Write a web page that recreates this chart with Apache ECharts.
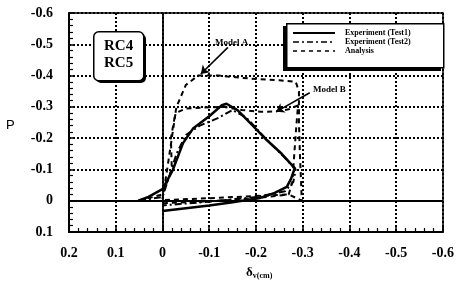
<!DOCTYPE html>
<html>
<head>
<meta charset="utf-8">
<script src="https://cdn.jsdelivr.net/npm/echarts@6/dist/echarts.min.js"></script>
<style>
  html, body { margin: 0; padding: 0; background: #fff; }
  #chart { width: 457px; height: 282px; }
</style>
</head>
<body>
<div id="chart"></div>
<script>
// displacement (cm), load P
var test1 = [
  [0.052, 0], [0.03, -0.012], [0, -0.037], [-0.022, -0.098], [-0.044, -0.184],
  [-0.066, -0.232], [-0.1, -0.27], [-0.127, -0.305], [-0.137, -0.31], [-0.16, -0.29],
  [-0.19, -0.245], [-0.223, -0.194], [-0.255, -0.15], [-0.283, -0.104], [-0.275, -0.07],
  [-0.266, -0.044], [-0.24, -0.025], [-0.209, -0.009], [-0.15, 0.005], [-0.1, 0.015],
  [0, 0.033]
];
var test2 = [
  [0.05, 0], [0, -0.012], [-0.015, -0.08], [-0.03, -0.15], [-0.05, -0.21],
  [-0.08, -0.24], [-0.12, -0.265], [-0.15, -0.29], [-0.18, -0.265], [-0.22, -0.2],
  [-0.26, -0.14], [-0.285, -0.1], [-0.28, -0.06], [-0.262, -0.03], [-0.2, -0.012],
  [-0.1, 0.003], [0, 0.015]
];
var modelA = [
  [0.05, 0], [0, -0.02], [-0.02, -0.1], [-0.018, -0.2], [-0.03, -0.3],
  [-0.05, -0.37], [-0.076, -0.4], [-0.12, -0.4], [-0.19, -0.39], [-0.25, -0.385],
  [-0.285, -0.38], [-0.292, -0.35], [-0.292, -0.25], [-0.294, -0.15], [-0.296, -0.08],
  [-0.298, 0], [-0.27, -0.02], [-0.2, -0.015], [-0.1, -0.008], [0, -0.002]
];
var modelB = [
  [0, -0.005], [-0.01, -0.1], [-0.02, -0.2], [-0.028, -0.28], [-0.05, -0.295],
  [-0.09, -0.298], [-0.13, -0.3], [-0.17, -0.29], [-0.21, -0.284], [-0.24, -0.285],
  [-0.27, -0.292], [-0.29, -0.305], [-0.287, -0.25], [-0.282, -0.15], [-0.278, -0.06],
  [-0.27, -0.02], [-0.2, -0.008], [-0.1, 0.002], [0, 0.008]
];
var arrowA = [[-0.14, -0.49], [-0.082, -0.405]];
var arrowB = [[-0.315, -0.345], [-0.243, -0.284]];
var legendNames = ['Experiment (Test1)', 'Experiment (Test2)', 'Analysis'];

var chart = echarts.init(document.getElementById('chart'));
var tickFont = { fontFamily: 'Liberation Serif', fontWeight: 'bold', fontSize: 14, color: '#000' };
var gridLine = { show: true, lineStyle: { color: '#000000', width: 2, type: 'dotted', opacity: 1 } };
var frameAxis = {
  type: 'value', inverse: true, interval: 0.1,
  axisLine: { show: true, onZero: false, lineStyle: { color: '#000', width: 1.5 } },
  axisTick: { show: false }, axisLabel: { show: false }, splitLine: { show: false }
};

var option = {
  animation: false,
  grid: { left: 69, right: 14, top: 13, bottom: 50 },
  xAxis: [{
    type: 'value', min: -0.6, max: 0.2, interval: 0.1, inverse: true, position: 'bottom',
    axisLine: { onZero: false, lineStyle: { color: '#000', width: 2 } },
    axisTick: { inside: true, length: 5, lineStyle: { color: '#000', width: 1.5 } },
    minorTick: { show: true, splitNumber: 5, length: 4, lineStyle: { color: '#000', width: 1.2 } },
    splitLine: gridLine,
    axisLabel: Object.assign({ margin: 14 }, tickFont)
  }, Object.assign({ min: -0.6, max: 0.2, position: 'top' }, frameAxis)],
  yAxis: [{
    type: 'value', min: -0.6, max: 0.1, interval: 0.1, inverse: true, position: 'left',
    axisLine: { onZero: false, lineStyle: { color: '#000', width: 2 } },
    axisTick: { inside: true, length: 5, lineStyle: { color: '#000', width: 1.5 } },
    minorTick: { show: true, splitNumber: 5, length: 4, lineStyle: { color: '#000', width: 1.2 } },
    splitLine: gridLine,
    axisLabel: Object.assign({ margin: 16 }, tickFont)
  }, Object.assign({ min: -0.6, max: 0.1, position: 'right' }, frameAxis)],
  series: [
    {
      name: legendNames[0], type: 'line', data: test1, symbol: 'none', z: 5,
      lineStyle: { color: '#000', width: 2.5 },
      markLine: {
        silent: true, symbol: 'none', label: { show: false },
        lineStyle: { color: '#000', width: 1.8, type: 'solid' },
        data: [{ xAxis: 0 }, { yAxis: 0 }]
      }
    },
    {
      name: legendNames[1], type: 'line', data: test2, symbol: 'none',
      lineStyle: { color: '#000', width: 2, type: [7, 3, 2, 3] }
    },
    {
      name: legendNames[2], type: 'line', data: modelA, symbol: 'none',
      lineStyle: { color: '#000', width: 2, type: [5, 4] },
      markLine: {
        silent: true, symbol: ['none', 'arrow'], symbolSize: 8, label: { show: false },
        lineStyle: { color: '#000', width: 1.6, type: 'solid' },
        data: [
          [{ coord: arrowA[0] }, { coord: arrowA[1] }],
          [{ coord: arrowB[0] }, { coord: arrowB[1] }]
        ]
      }
    },
    {
      name: legendNames[2], type: 'line', data: modelB, symbol: 'none',
      lineStyle: { color: '#000', width: 2, type: [5, 4] }
    }
  ],
  graphic: [
    // RC4 / RC5 box
    { type: 'rect', left: 96, top: 34, shape: { width: 50, height: 49, r: 5 },
      style: { fill: '#000' }, z: 10 },
    { type: 'rect', left: 93, top: 31, shape: { width: 50, height: 49, r: 5 },
      style: { fill: '#fff', stroke: '#000', lineWidth: 1.5 }, z: 11 },
    { type: 'text', left: 104, top: 38, z: 12,
      style: { text: 'RC4\nRC5', fontFamily: 'Liberation Serif', fontWeight: 'bold', fontSize: 15, lineHeight: 17, fill: '#000' } },
    // legend box
    { type: 'rect', left: 283, top: 26, shape: { width: 158, height: 45 },
      style: { fill: '#000' }, z: 10 },
    { type: 'rect', left: 286, top: 23, shape: { width: 157, height: 44 },
      style: { fill: '#fff', stroke: '#000', lineWidth: 1.5 }, z: 11 },
    { type: 'line', shape: { x1: 293, y1: 33, x2: 335, y2: 33 }, style: { stroke: '#000', lineWidth: 1.8 }, z: 12 },
    { type: 'line', shape: { x1: 293, y1: 42, x2: 335, y2: 42 }, style: { stroke: '#000', lineWidth: 1.5, lineDash: [6, 3, 2, 3] }, z: 12 },
    { type: 'line', shape: { x1: 293, y1: 51, x2: 335, y2: 51 }, style: { stroke: '#000', lineWidth: 1.5, lineDash: [4, 4] }, z: 12 },
    { type: 'text', left: 345, top: 28, z: 12,
      style: { text: legendNames.join('\n'), fontFamily: 'Liberation Serif', fontWeight: 'bold', fontSize: 8, lineHeight: 9, fill: '#000' } },
    // model labels
    { type: 'text', left: 215, top: 38, z: 12,
      style: { text: 'Model A', fontFamily: 'Liberation Serif', fontWeight: 'bold', fontSize: 9, fill: '#000' } },
    { type: 'text', left: 313, top: 85, z: 12,
      style: { text: 'Model B', fontFamily: 'Liberation Serif', fontWeight: 'bold', fontSize: 9, fill: '#000' } },
    // axis names
    { type: 'text', left: 6, top: 119,
      style: { text: 'P', fontFamily: 'Liberation Sans', fontSize: 13, fill: '#000' } },
    { type: 'text', left: 246, top: 266,
      style: { text: '{a|δ}{b|v(cm)}', rich: {
        a: { fontFamily: 'Liberation Serif', fontWeight: 'bold', fontSize: 13, fill: '#000' },
        b: { fontFamily: 'Liberation Serif', fontWeight: 'bold', fontSize: 8, fill: '#000', padding: [6, 0, 0, 0] }
      } } }
  ]
};
chart.setOption(option);
</script>
</body>
</html>
